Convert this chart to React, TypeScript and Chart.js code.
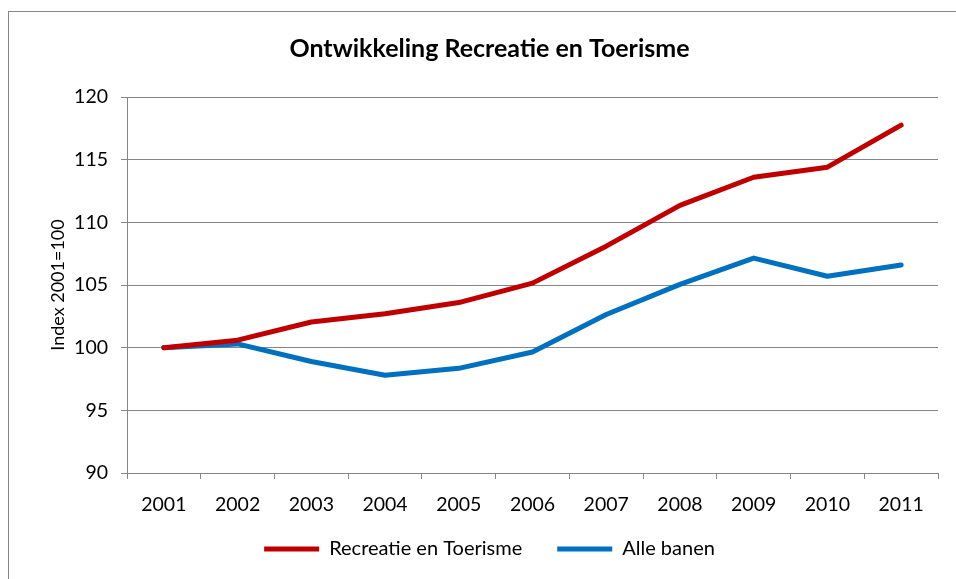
import React, { useEffect, useRef } from "react";
import Chart from "chart.js/auto";

const years = ["2001", "2002", "2003", "2004", "2005", "2006", "2007", "2008", "2009", "2010", "2011"];
const recreatieEnToerisme = [100, 100.6, 102.05, 102.7, 103.6, 105.15, 108.1, 111.35, 113.6, 114.4, 117.75];
const alleBanen = [100, 100.3, 98.9, 97.8, 98.35, 99.65, 102.65, 105.05, 107.15, 105.7, 106.6];
const yMin = 90;
const yMax = 120;
const yStep = 5;

const FONT = "Lato, 'Open Sans', sans-serif";
const GRID = "#868686";

export default function App() {
  const ref = useRef<HTMLCanvasElement | null>(null);
  useEffect(() => {
    if (!ref.current) return;
    const chart = new Chart(ref.current, {
      type: "line",
      data: {
        labels: years,
        datasets: [
          {
            label: "Recreatie en Toerisme",
            data: recreatieEnToerisme,
            borderColor: "#C00000",
            backgroundColor: "#C00000",
            borderWidth: 5,
            borderCapStyle: "round",
            borderJoinStyle: "round",
            pointRadius: 0,
            tension: 0,
          },
          {
            label: "Alle banen",
            data: alleBanen,
            borderColor: "#0070C0",
            backgroundColor: "#0070C0",
            borderWidth: 5,
            borderCapStyle: "round",
            borderJoinStyle: "round",
            pointRadius: 0,
            tension: 0,
          },
        ],
      },
      options: {
        responsive: false,
        animation: false,
        layout: { padding: { left: 32, right: 18, top: 0, bottom: 10 } },
        plugins: {
          title: {
            display: true,
            text: "Ontwikkeling Recreatie en Toerisme",
            color: "#000",
            font: { family: FONT, size: 25, weight: "bold", lineHeight: 1.2 },
            padding: { top: 22, bottom: 33 },
          },
          legend: {
            position: "bottom",
            labels: {
              color: "#000",
              font: { family: FONT, size: 20 },
              usePointStyle: true,
              pointStyle: "line",
              pointStyleWidth: 55,
              boxHeight: 20,
              padding: 35,
            },
          },
          tooltip: { enabled: false },
        },
        scales: {
          x: {
            offset: true,
            afterFit: (s: any) => {
              s.height = 31;
              s._computeLabelArea = () => undefined;
            },
            grid: {
              offset: true,
              drawOnChartArea: false,
              drawTicks: true,
              tickLength: 6,
              color: GRID,
            },
            border: { display: true, color: GRID, width: 1 },
            ticks: { color: "#000", font: { family: FONT, size: 19.5 }, padding: 14, maxRotation: 0 },
          },
          y: {
            min: yMin,
            max: yMax,
            afterFit: (s: any) => {
              s.width = 86;
            },
            ticks: { stepSize: yStep, color: "#000", font: { family: FONT, size: 19.5 }, padding: 13 },
            grid: { color: GRID, tickLength: 6, drawTicks: true },
            border: { display: true, color: GRID, width: 1 },
            title: {
              display: true,
              text: "Index 2001=100",
              color: "#000",
              font: { family: FONT, size: 18 },
              padding: { top: 6, bottom: 0 },
            },
          },
        },
      },
    });
    return () => chart.destroy();
  }, []);
  return (
    <div
      style={{
        position: "absolute",
        left: 8,
        top: 11,
        width: 948,
        height: 568,
        boxSizing: "border-box",
        borderLeft: "1px solid #878787",
        borderTop: "1px solid #878787",
        background: "#fff",
        overflow: "hidden",
      }}
    >
      <canvas ref={ref} width={947} height={567} style={{ display: "block" }} />
    </div>
  );
}
